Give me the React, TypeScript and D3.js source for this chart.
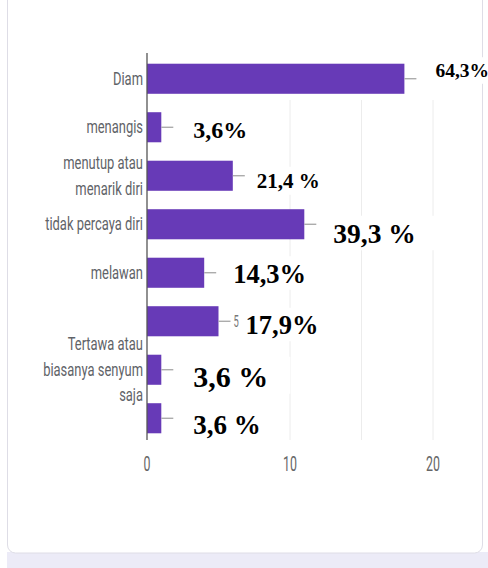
import React from "react";
import * as d3 from "d3";

const categories = ["Diam", "menangis", "menutup atau menarik diri", "tidak percaya diri", "melawan", "(tanpa label)", "Tertawa atau biasanya senyum saja", "(tanpa label 2)"];
const labelLines = [["Diam"], ["menangis"], ["menutup atau", "menarik diri"], ["tidak percaya diri"], ["melawan"], [], ["Tertawa atau", "biasanya senyum", "saja"], []];
const values = [18, 1, 6, 11, 4, 5, 1, 1];
const percentLabels = ["64,3%", "3,6%", "21,4 %", "39,3 %", "14,3%", "17,9%", "3,6 %", "3,6 %"];
const xTicks = [0, 10, 20];
const gridValues = [10, 15, 20];

// style config for pasted percentage labels: offset from bar end / bar center, font size
const pasteStyle = [
  { dx: 31, dy: -2, fs: 19.5 },
  { dx: 32, dy: 11, fs: 24 },
  { dx: 24, dy: 12, fs: 21 },
  { dx: 29, dy: 19, fs: 27.5 },
  { dx: 29, dy: 10, fs: 26.5 },
  { dx: 27, dy: 13, fs: 26.5 },
  { dx: 32, dy: 17, fs: 30 },
  { dx: 32, dy: 16, fs: 27 },
];

function approxWidth(s: string, fs: number) {
  let w = 0;
  for (const c of s) {
    if (c >= "0" && c <= "9") w += 0.5;
    else if (c === "," || c === " ") w += 0.25;
    else if (c === "%") w += 1.0;
    else w += 0.5;
  }
  return w * fs;
}

export default function App() {
  const W = 488, H = 568;
  const x = d3.scaleLinear().domain([0, 20]).range([147, 433]);
  const y = d3.scaleBand<string>().domain(categories).range([54.5, 442.5]).paddingInner(0.38).paddingOuter(0.19);
  const bw = y.bandwidth();
  const labelFont = "Roboto, 'Noto Sans', sans-serif";
  const gray = "#5f6368";

  return (
    <svg width={W} height={H} style={{ position: "absolute", left: 0, top: 0 }}>
      <rect x={0} y={0} width={W} height={H} fill="#ffffff" />
      <rect x={7} y={552} width={W - 7} height={H - 552} fill="#ecebf7" />
      <rect x={7.5} y={-20} width={475} height={573} rx={8} fill="#ffffff" stroke="#dedde6" strokeWidth={1} />

      {/* grid lines */}
      {gridValues.map((g) => (
        <line key={g} x1={x(g)} x2={x(g)} y1={100} y2={440} stroke="#ececec" strokeWidth={1} />
      ))}

      {/* bars */}
      {categories.map((c, i) => (
        <g key={c}>
          <rect x={x(0)} y={y(c)!} width={x(values[i]) - x(0)} height={bw} fill="#673ab7" />
          <line x1={x(values[i])} x2={x(values[i]) + 12} y1={y(c)! + bw / 2} y2={y(c)! + bw / 2} stroke="#9e9e9e" strokeWidth={1.2} />
        </g>
      ))}

      {/* axis line */}
      <line x1={x(0)} x2={x(0)} y1={53} y2={440} stroke="#555" strokeWidth={1.3} />

      {/* category labels */}
      {categories.map((c, i) => {
        const lines = labelLines[i];
        const cy = y(c)! + bw / 2;
        const lh = 25.5;
        return lines.map((ln, j) => {
          const ly = cy + (j - (lines.length - 1) / 2) * lh + 6;
          return (
            <g key={c + j} transform={`translate(143,${ly}) scale(0.74,1)`}>
              <text x={0} y={0} textAnchor="end" fontFamily={labelFont} fontSize={17.5} fill={gray}>{ln}</text>
            </g>
          );
        });
      })}

      {/* x tick labels */}
      {xTicks.map((t) => (
        <g key={t} transform={`translate(${x(t)},${471}) scale(0.62,1)`}>
          <text x={0} y={0} textAnchor="middle" fontFamily={labelFont} fontSize={20} fill="#666">{t}</text>
        </g>
      ))}

      {/* pasted percentage labels */}
      {categories.map((c, i) => {
        const st = pasteStyle[i];
        const tx = x(values[i]) + st.dx;
        const ty = y(c)! + bw / 2 + st.dy;
        const w = approxWidth(percentLabels[i], st.fs);
        return (
          <g key={"p" + c}>
            <rect x={tx - 8} y={ty - st.fs} width={w + 30} height={st.fs + 7} fill="#ffffff" />
            <text x={tx} y={ty} fontFamily="'Liberation Serif', 'Times New Roman', serif" fontWeight="bold" fontSize={st.fs} fill="#000">{percentLabels[i]}</text>
          </g>
        );
      })}

      {/* partially visible original value label */}
      <g transform={`translate(${x(values[5]) + 15},${y(categories[5])! + bw / 2 + 6}) scale(0.55,1)`}>
        <text x={0} y={0} fontFamily={labelFont} fontSize={17} fill="#777">5</text>
      </g>
    </svg>
  );
}
